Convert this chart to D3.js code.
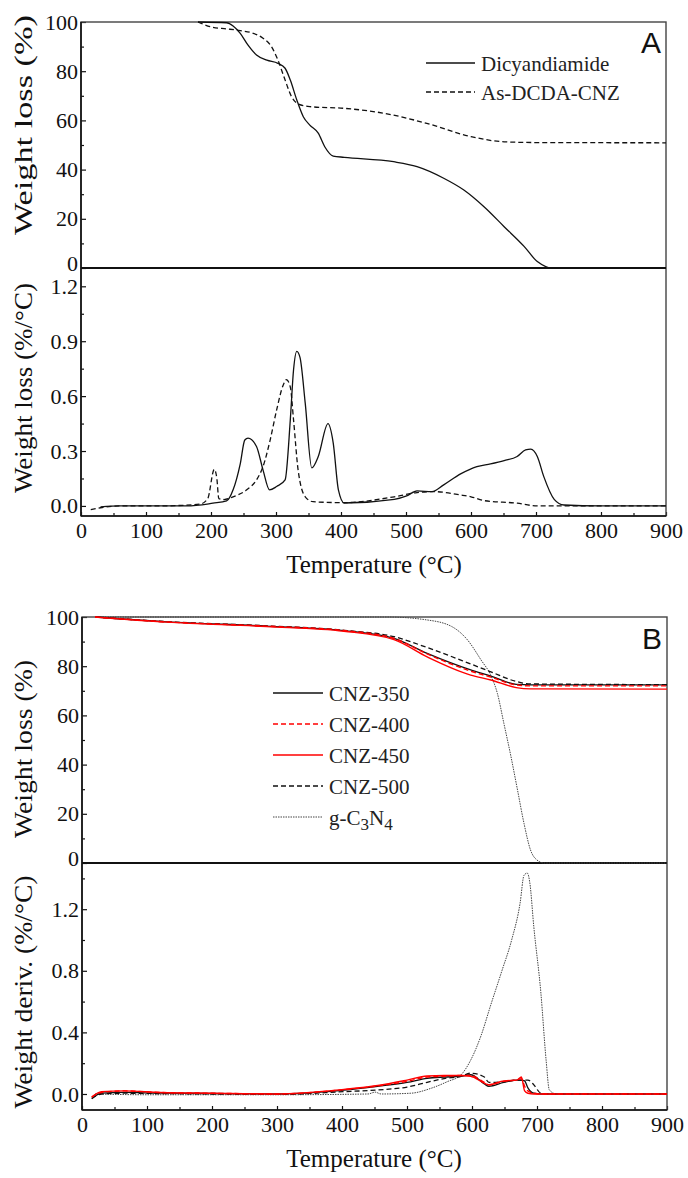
<!DOCTYPE html>
<html>
<head>
  <meta charset="utf-8" />
  <title>TGA</title>
  <style>
    body { margin: 0; background: #fff; }
    svg { display: block; }
    .tick text { font-family: "Liberation Serif", "Times New Roman", serif; font-size: 22px; fill: #111; }
    .axis path { display: none; }
    .axis line { stroke: #111; stroke-width: 1.2; }
    .title { font-family: "Liberation Serif", "Times New Roman", serif; font-size: 25px; fill: #111; }
    .leg { font-family: "Liberation Serif", "Times New Roman", serif; font-size: 21px; fill: #222; }
    .tag { font-family: "Liberation Sans", Arial, sans-serif; font-size: 30px; fill: #111; }
  </style>
  <script src="https://cdnjs.cloudflare.com/ajax/libs/d3/7.8.5/d3.min.js"></script>
</head>
<body>
  <svg id="chart" width="688" height="1178"></svg>
  <script>
    // ---- panel A : TG ----
    var dcdaTgT = [180, 224, 234, 245, 257, 270, 286, 303, 314, 322, 332, 342, 352, 365, 375, 388, 405, 481, 517, 558, 589, 620, 651, 682, 702, 715, 723, 900];
    var dcdaTgW = [100, 99.7, 98.4, 95.4, 90.6, 86.6, 84.5, 83.2, 81.2, 76.4, 68.3, 61.5, 58.1, 54.8, 49.3, 45.5, 45, 43.2, 41.2, 36.5, 31.7, 24.9, 16.8, 8.7, 2.6, 0.6, 0, 0];
    var asTgT = [180, 203, 224, 245, 265, 280, 293, 303, 314, 324, 334, 352, 405, 466, 532, 600, 651, 700, 900];
    var asTgW = [100, 97.8, 97.2, 96.5, 95.4, 93.4, 90, 84.5, 76.4, 69.6, 66.7, 65.6, 64.9, 62.9, 58.8, 53.4, 51.3, 51.0, 50.9];

    // ---- panel A : DTG ----
    var dcdaDtgT = [30, 60, 100, 163, 203, 224, 234, 245, 252, 257, 270, 280, 290, 301, 314, 322, 327, 332, 337, 345, 355, 365, 380, 388, 396, 405, 482, 501, 517, 540, 558, 584, 609, 630, 651, 671, 684, 692, 702, 712, 728, 743, 800, 900];
    var dcdaDtgD = [-0.005, 0, 0, 0, 0.015, 0.027, 0.088, 0.23, 0.36, 0.37, 0.325, 0.197, 0.088, 0.106, 0.142, 0.47, 0.744, 0.845, 0.81, 0.56, 0.208, 0.27, 0.45, 0.345, 0.088, 0.016, 0.036, 0.055, 0.082, 0.078, 0.115, 0.175, 0.215, 0.23, 0.248, 0.27, 0.306, 0.31, 0.27, 0.16, 0.036, 0.005, 0, 0];
    var asDtgT = [15, 30, 60, 120, 183, 195, 205, 209, 212, 220, 234, 255, 270, 280, 291, 301, 311, 316, 322, 327, 334, 345, 357, 405, 482, 517, 543, 584, 600, 620, 671, 702, 900];
    var asDtgD = [-0.02, -0.01, 0, 0, 0.01, 0.04, 0.2, 0.15, 0.04, 0.035, 0.05, 0.088, 0.142, 0.215, 0.36, 0.525, 0.66, 0.69, 0.65, 0.47, 0.197, 0.05, 0.023, 0.018, 0.05, 0.073, 0.078, 0.06, 0.05, 0.029, 0.015, 0, 0];

    // ---- panel B : TG ----
    var cnzTgT = [20, 131, 284, 403, 480, 531, 598, 629, 668, 690, 900];
    var cnz350TgW = [100, 98, 96.3, 94.5, 91.3, 85.2, 78.5, 76, 72.6, 72.4, 72.4];
    var cnz400TgW = [100, 98, 96.3, 94.5, 91.3, 85.0, 78.0, 75.6, 72.4, 72.0, 72.0];
    var cnz450TgW = [100, 97.9, 96.1, 94.2, 90.8, 83.8, 76.4, 74.4, 71.3, 70.8, 70.7];
    var cnz500TgW = [100, 98.1, 96.4, 94.6, 92.0, 87.6, 80.9, 77.7, 73.8, 72.8, 72.5];
    var gcnTgT = [20, 470, 531, 569, 593, 614, 629, 639, 649, 660, 670, 680, 690, 700, 711, 900];
    var gcnTgW = [100, 100, 98.8, 96.1, 90.7, 82.5, 76.2, 69, 56.8, 43.2, 29.7, 16.1, 5.3, 1.2, 0, 0];

    // ---- panel B : DTG ----
    var cnzDtgT = [15, 30, 65, 120, 200, 300, 403, 455, 500, 531, 557, 583, 598, 619, 626, 649, 669, 676, 681, 686, 695, 706, 720, 900];
    var cnz350DtgD = [-0.03, 0.005, 0.01, 0.005, 0.003, 0, 0.025, 0.05, 0.075, 0.102, 0.11, 0.115, 0.125, 0.065, 0.05, 0.075, 0.09, 0.09, 0.085, 0.04, 0.005, 0, 0, 0];
    var cnz400DtgD = [-0.02, 0.01, 0.02, 0.01, 0.005, 0, 0.028, 0.052, 0.082, 0.11, 0.115, 0.12, 0.12, 0.075, 0.06, 0.082, 0.092, 0.1, 0.05, 0.02, 0.005, 0, 0, 0];
    var cnz450DtgD = [-0.02, 0.015, 0.02, 0.01, 0.005, 0, 0.03, 0.055, 0.09, 0.117, 0.12, 0.12, 0.115, 0.07, 0.06, 0.085, 0.09, 0.11, 0.02, 0.005, 0, 0, 0, 0];
    var cnz500DtgD = [-0.03, 0, 0.005, 0.003, 0, -0.003, 0.015, 0.026, 0.045, 0.076, 0.1, 0.115, 0.135, 0.11, 0.075, 0.08, 0.09, 0.09, 0.09, 0.09, 0.06, 0.005, 0, 0];
    var gcnDtgT = [20, 100, 300, 440, 451, 460, 506, 537, 562, 583, 598, 614, 629, 646, 661, 674, 680, 685, 689, 695, 706, 714, 719, 730, 900];
    var gcnDtgD = [0, -0.005, -0.005, 0, 0.012, 0, 0.005, 0.037, 0.08, 0.124, 0.22, 0.38, 0.58, 0.8, 1.0, 1.24, 1.42, 1.435, 1.37, 1.09, 0.655, 0.22, 0.026, 0, 0];

    var xTicks = [0, 100, 200, 300, 400, 500, 600, 700, 800, 900];

    var svg = d3.select('#chart');

    var styles = {
      solid: { stroke: '#111', dash: null, w: 1.3 },
      dashed: { stroke: '#111', dash: '5,3', w: 1.3 },
      redSolid: { stroke: '#f00', dash: null, w: 1.4 },
      redDashed: { stroke: '#f00', dash: '5,3', w: 1.4 },
      dotted: { stroke: '#444', dash: '1.5,1', w: 1 }
    };

    function zip(t, v) { return t.map((d, i) => ({ t: d, v: v[i] })); }

    function drawPanel(p) {
      var g = svg.append('g');
      var x = d3.scaleLinear().domain([0, 900]).range([p.left, p.right]);
      var yU = d3.scaleLinear().domain([0, 100]).range([p.mid, p.top]);
      var yL = d3.scaleLinear().domain(p.lowDomain).range([p.bottom, p.mid]);

      var clipU = 'cu' + p.id, clipL = 'cl' + p.id;
      var defs = g.append('defs');
      defs.append('clipPath').attr('id', clipU).append('rect')
        .attr('x', p.left).attr('y', p.top - 2).attr('width', p.right - p.left).attr('height', p.mid - p.top + 3);
      defs.append('clipPath').attr('id', clipL).append('rect')
        .attr('x', p.left).attr('y', p.mid).attr('width', p.right - p.left).attr('height', p.bottom - p.mid);

      // upper y axis
      g.append('g').attr('class', 'axis').attr('transform', `translate(${p.left},0)`)
        .call(d3.axisLeft(yU).tickValues(d3.range(10, 100, 20)).tickSize(-3).tickFormat(''));
      g.append('g').attr('class', 'axis up').attr('transform', `translate(${p.left},0)`)
        .call(d3.axisLeft(yU).tickValues([0, 20, 40, 60, 80, 100]).tickSizeInner(-5).tickSizeOuter(0).tickPadding(3).tickFormat(d3.format('d')));
      // the upper "0" sits just above the shared line
      g.select('.up').selectAll('.tick').filter(d => d === 0).select('text').attr('dy', '0.1em');

      // lower y axis
      g.append('g').attr('class', 'axis').attr('transform', `translate(${p.left},0)`)
        .call(d3.axisLeft(yL).tickValues(p.lowMinor).tickSize(-3).tickFormat(''));
      g.append('g').attr('class', 'axis').attr('transform', `translate(${p.left},0)`)
        .call(d3.axisLeft(yL).tickValues(p.lowMajor).tickSizeInner(-5).tickSizeOuter(0).tickPadding(3).tickFormat(d3.format('.1f')));

      // bottom x axis
      g.append('g').attr('class', 'axis').attr('transform', `translate(0,${p.bottom})`)
        .call(d3.axisBottom(x).tickValues(d3.range(50, 900, 100)).tickSize(-3).tickFormat(''));
      g.append('g').attr('class', 'axis').attr('transform', `translate(0,${p.bottom})`)
        .call(d3.axisBottom(x).tickValues(xTicks).tickSizeInner(-4).tickSizeOuter(0).tickPadding(6).tickFormat(d3.format('d')));

      g.selectAll('.axis').attr('font-family', null).attr('font-size', null);
      g.selectAll('.tick text').attr('fill', '#111');

      // frame
      g.append('rect').attr('x', p.left).attr('y', p.top).attr('width', p.right - p.left).attr('height', p.bottom - p.top)
        .attr('fill', 'none').attr('stroke', '#444').attr('stroke-width', 1.4);
      g.append('line').attr('x1', p.left).attr('x2', p.left).attr('y1', p.top).attr('y2', p.bottom)
        .attr('stroke', '#111').attr('stroke-width', 1.6);
      g.append('line').attr('x1', p.left).attr('x2', p.right).attr('y1', p.bottom).attr('y2', p.bottom)
        .attr('stroke', '#111').attr('stroke-width', 1.6);
      g.append('line').attr('x1', p.left).attr('x2', p.right).attr('y1', p.mid).attr('y2', p.mid)
        .attr('stroke', '#111').attr('stroke-width', 1.8);

      var lineU = d3.line().x(d => x(d.t)).y(d => yU(d.v)).curve(d3.curveMonotoneX);
      var lineL = d3.line().x(d => x(d.t)).y(d => yL(d.v)).curve(d3.curveMonotoneX);

      p.upper.forEach(s => {
        var st = styles[s.style];
        g.append('path').datum(zip(s.t, s.v)).attr('d', lineU).attr('clip-path', `url(#${clipU})`)
          .attr('fill', 'none').attr('stroke', st.stroke).attr('stroke-width', st.w).attr('stroke-dasharray', st.dash);
      });
      p.lower.forEach(s => {
        var st = styles[s.style];
        g.append('path').datum(zip(s.t, s.v)).attr('d', lineL).attr('clip-path', `url(#${clipL})`)
          .attr('fill', 'none').attr('stroke', st.stroke).attr('stroke-width', st.w).attr('stroke-dasharray', st.dash);
      });

      // titles
      g.append('text').attr('class', 'title').attr('text-anchor', 'middle')
        .attr('transform', `translate(32,${p.uTitle.c}) rotate(-90)`)
        .attr('textLength', p.uTitle.len).attr('lengthAdjust', 'spacingAndGlyphs').text(p.uTitle.text);
      g.append('text').attr('class', 'title').attr('text-anchor', 'middle')
        .attr('transform', `translate(32,${p.lTitle.c}) rotate(-90)`)
        .attr('textLength', p.lTitle.len).attr('lengthAdjust', 'spacingAndGlyphs').text(p.lTitle.text);
      g.append('text').attr('class', 'title').attr('text-anchor', 'middle')
        .attr('x', 374).attr('y', p.bottom + 57).text('Temperature (°C)');

      g.append('text').attr('class', 'tag').attr('text-anchor', 'end')
        .attr('x', p.right - 5).attr('y', p.top + p.tagDy).text(p.id);

      // legend
      p.legend.forEach((l, i) => {
        var st = styles[l.style];
        var ly = p.leg.y + i * p.leg.step;
        g.append('line').attr('x1', p.leg.x1).attr('x2', p.leg.x2).attr('y1', ly).attr('y2', ly)
          .attr('stroke', st.stroke).attr('stroke-width', st.w).attr('stroke-dasharray', st.dash);
        var t = g.append('text').attr('class', 'leg').attr('x', p.leg.x2 + 6).attr('y', ly + 8);
        l.parts.forEach(pt => {
          var ts = t.append('tspan').text(pt[0]);
          if (pt[1]) ts.attr('baseline-shift', '-30%').style('font-size', '17px');
        });
      });
    }

    drawPanel({
      id: 'A', left: 81, right: 666, top: 22, mid: 268, bottom: 516,
      lowDomain: [-0.055, 1.3],
      lowMajor: [0, 0.3, 0.6, 0.9, 1.2],
      lowMinor: [0.15, 0.45, 0.75, 1.05],
      tagDy: 31,
      upper: [
        { t: dcdaTgT, v: dcdaTgW, style: 'solid' },
        { t: asTgT, v: asTgW, style: 'dashed' }
      ],
      lower: [
        { t: dcdaDtgT, v: dcdaDtgD, style: 'solid' },
        { t: asDtgT, v: asDtgD, style: 'dashed' }
      ],
      uTitle: { text: 'Weight loss (%)', c: 125, len: 220 },
      lTitle: { text: 'Weight loss (%/°C)', c: 388, len: 210 },
      leg: { x1: 426, x2: 475, y: 63, step: 29 },
      legend: [
        { style: 'solid', parts: [['Dicyandiamide']] },
        { style: 'dashed', parts: [['As-DCDA-CNZ']] }
      ]
    });

    drawPanel({
      id: 'B', left: 82, right: 667, top: 617, mid: 863, bottom: 1110,
      lowDomain: [-0.104, 1.5],
      lowMajor: [0, 0.4, 0.8, 1.2],
      lowMinor: [0.2, 0.6, 1.0, 1.4],
      tagDy: 32,
      upper: [
        { t: gcnTgT, v: gcnTgW, style: 'dotted' },
        { t: cnzTgT, v: cnz500TgW, style: 'dashed' },
        { t: cnzTgT, v: cnz350TgW, style: 'solid' },
        { t: cnzTgT, v: cnz450TgW, style: 'redSolid' },
        { t: cnzTgT, v: cnz400TgW, style: 'redDashed' }
      ],
      lower: [
        { t: gcnDtgT, v: gcnDtgD, style: 'dotted' },
        { t: cnzDtgT, v: cnz500DtgD, style: 'dashed' },
        { t: cnzDtgT, v: cnz350DtgD, style: 'solid' },
        { t: cnzDtgT, v: cnz450DtgD, style: 'redSolid' },
        { t: cnzDtgT, v: cnz400DtgD, style: 'redDashed' }
      ],
      uTitle: { text: 'Weight loss (%)', c: 749, len: 178 },
      lTitle: { text: 'Weight deriv. (%/°C)', c: 992, len: 233 },
      leg: { x1: 273, x2: 323, y: 693, step: 31 },
      legend: [
        { style: 'solid', parts: [['CNZ-350']] },
        { style: 'redDashed', parts: [['CNZ-400']] },
        { style: 'redSolid', parts: [['CNZ-450']] },
        { style: 'dashed', parts: [['CNZ-500']] },
        { style: 'dotted', parts: [['g-C'], ['3', true], ['N'], ['4', true]] }
      ]
    });
  </script>
</body>
</html>
